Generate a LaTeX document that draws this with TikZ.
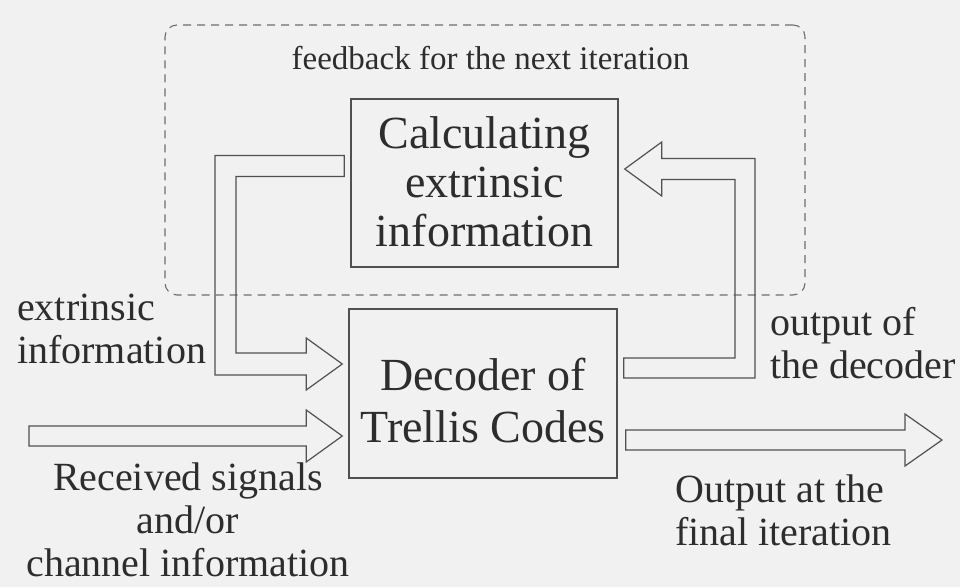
\documentclass[tikz,border=0pt]{standalone}
\usepackage{fontspec}
\setmainfont{Liberation Serif}
\usetikzlibrary{calc}
\definecolor{paper}{RGB}{241,241,241}
\definecolor{ink}{RGB}{45,45,45}
\definecolor{rule}{RGB}{80,80,80}
\definecolor{dashgray}{RGB}{110,110,110}
\tikzset{
  x=1pt, y=1pt,
  blockbox/.style={draw=rule, line width=1.5pt, inner sep=0pt},
  boxtext/.style={text=ink, inner sep=0pt, align=center, font=\fontsize{46}{49}\selectfont},
  sidetext/.style={text=ink, inner sep=0pt, font=\fontsize{40}{43}\selectfont},
  smalltext/.style={text=ink, inner sep=0pt, font=\fontsize{33}{36}\selectfont},
  blockarrow/.style={draw=rule, line width=1.2pt, line join=miter},
  loopframe/.style={draw=dashgray, line width=1.1pt, dash pattern=on 8pt off 6pt,
                    rounded corners=12pt, inner sep=0pt},
}
\begin{document}
\begin{tikzpicture}
  % page
  \fill[paper] (0,0) rectangle (960,587);
  \useasboundingbox (0,0) rectangle (960,587);

  % dashed frame of the iteration loop
  \node[loopframe, minimum width=640pt, minimum height=270pt] (loop) at (485,427) {};
  \node[smalltext, anchor=base] (loopText) at (490.5,517) {feedback for the next iteration};

  % the two processing blocks
  \node[blockbox, minimum width=267pt, minimum height=168pt] (calc) at (484.5,404) {};
  \node[boxtext] (calcText) at (484.5,405) {Calculating\\extrinsic\\information};
  \node[blockbox, minimum width=268pt, minimum height=169pt] (dec) at (483,193.5) {};
  \node[boxtext, font=\fontsize{46}{52}\selectfont] (decText) at (483,186.5) {Decoder of\\Trellis Codes};

  % end points and bend columns of the block arrows
  \coordinate (fbLstart) at ($(calc.west)+(-6,17)$);
  \coordinate (fbLtip)   at ($(dec.west)+(-6,29.5)$);
  \coordinate (fbLbend)  at (225.5,300);
  \coordinate (fbRstart) at ($(dec.east)+(6,25.5)$);
  \coordinate (fbRtip)   at ($(calc.east)+(6,14)$);
  \coordinate (fbRbend)  at (745,300);
  \coordinate (recv)     at (29,151);
  \coordinate (recvTip)  at ($(dec.west)+(-6,-42.5)$);
  \coordinate (outTail)  at ($(dec.east)+(8,-46.5)$);
  \coordinate (outTip)   at (942,147);

  % extrinsic information back into the decoder
  \draw[blockarrow] let \p1=(fbLstart), \p2=(fbLtip), \p3=(fbLbend) in
    (\x1,\y1+10.5pt) -- (\x3-10.5pt,\y1+10.5pt) -- (\x3-10.5pt,\y2-11pt)
    -- (\x2-36pt,\y2-11pt) -- (\x2-36pt,\y2-26pt) -- (\x2,\y2)
    -- (\x2-36pt,\y2+26pt) -- (\x2-36pt,\y2+11pt) -- (\x3+10.5pt,\y2+11pt)
    -- (\x3+10.5pt,\y1-10.5pt) -- (\x1,\y1-10.5pt) -- cycle;

  % decoder output fed to the extrinsic calculation
  \draw[blockarrow] let \p1=(fbRstart), \p2=(fbRtip), \p3=(fbRbend) in
    (\x1,\y1-10pt) -- (\x3+10pt,\y1-10pt) -- (\x3+10pt,\y2+10.5pt)
    -- (\x2+37pt,\y2+10.5pt) -- (\x2+37pt,\y2+27pt) -- (\x2,\y2)
    -- (\x2+37pt,\y2-27pt) -- (\x2+37pt,\y2-10.5pt) -- (\x3-10pt,\y2-10.5pt)
    -- (\x3-10pt,\y1+10pt) -- (\x1,\y1+10pt) -- cycle;

  % received signals into the decoder
  \draw[blockarrow] let \p1=(recv), \p2=(recvTip) in
    (\x1,\y2+10pt) -- (\x2-36pt,\y2+10pt) -- (\x2-36pt,\y2+26pt) -- (\x2,\y2)
    -- (\x2-36pt,\y2-26pt) -- (\x2-36pt,\y2-10pt) -- (\x1,\y2-10pt) -- cycle;

  % final output
  \draw[blockarrow] let \p1=(outTail), \p2=(outTip) in
    (\x1,\y2+10pt) -- (\x2-37pt,\y2+10pt) -- (\x2-37pt,\y2+26pt) -- (\x2,\y2)
    -- (\x2-37pt,\y2-26pt) -- (\x2-37pt,\y2-10pt) -- (\x1,\y2-10pt) -- cycle;

  % arrow labels
  \node[sidetext, anchor=west, align=left] (extLabel) at (17,258) {extrinsic\\information};
  \node[sidetext, align=center] (recvLabel) at (188,67) {Received signals\\and/or\\channel information};
  \node[sidetext, anchor=west, align=left] (decOutLabel) at (770,244) {output of\\the decoder};
  \node[sidetext, anchor=west, align=left] (finalLabel) at (675,76.5) {Output at the\\final iteration};
\end{tikzpicture}
\end{document}
